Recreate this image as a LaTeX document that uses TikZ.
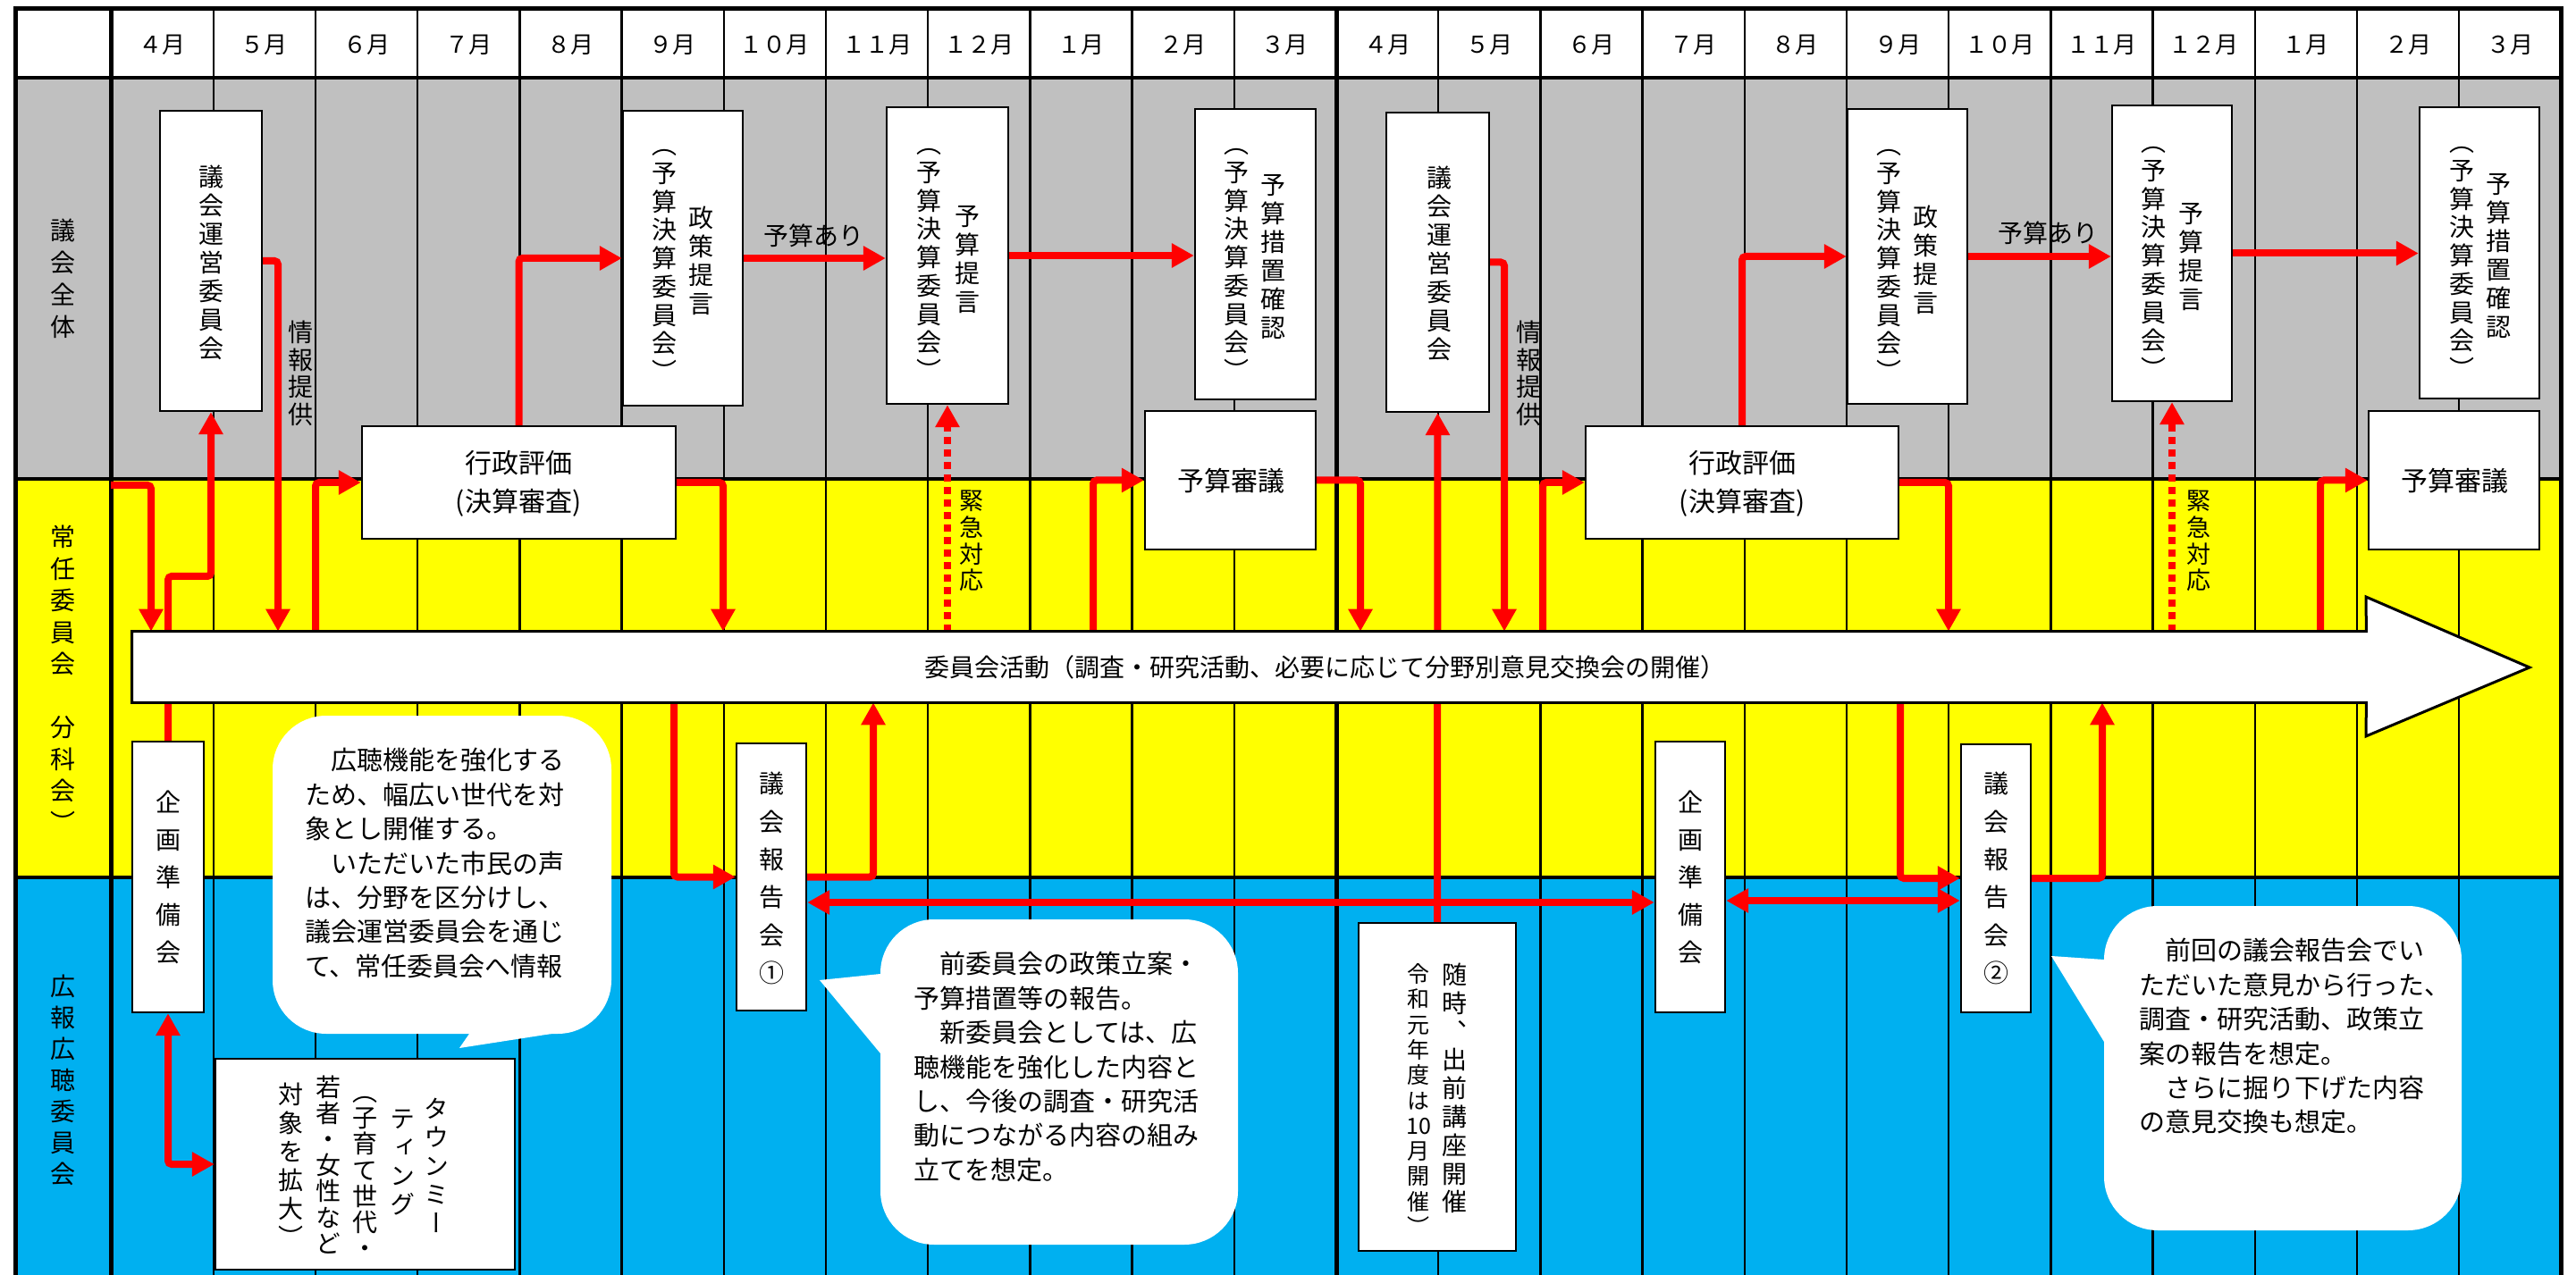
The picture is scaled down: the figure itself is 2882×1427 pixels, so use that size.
\documentclass[tikz,border=0pt]{standalone}
\usepackage{fontspec}
\setmainfont{Noto Sans CJK JP}
\newfontfamily\vjp[RawFeature=+vert]{Noto Sans CJK JP}
\usetikzlibrary{arrows.meta,fit}
\definecolor{cgray}{HTML}{C0C0C0}
\definecolor{cyel}{HTML}{FFFF00}
\definecolor{cblue}{HTML}{00B0F0}
\definecolor{cred}{HTML}{FF0000}
\newcommand\vs{\rule[-0.12em]{0pt}{1em}}
\tikzset{
  gridl/.style={line width=1.2pt,black},
  thickl/.style={line width=2.5pt,black},
  midl/.style={line width=2pt,black},
  box/.style={draw=black,line width=1.2pt,fill=white,inner sep=0pt},
  bubble/.style={fill=white,rounded corners=30pt,inner sep=0pt},
  vt/.style 2 args={align=center,inner sep=0pt,font=\vjp\fontsize{#1}{#2}\selectfont},
  ht/.style 2 args={align=center,inner sep=0pt,font=\fontsize{#1}{#2}\selectfont},
  btxt/.style={align=left,inner sep=0pt,anchor=north west,font=\fontsize{14.5pt}{19.2pt}\selectfont},
  mon/.style={inner sep=0pt,font=\fontsize{13pt}{15pt}\selectfont},
  ra/.style={draw=cred,line width=4pt,rounded corners=2pt,-{Triangle[length=12.5pt,width=13pt]}},
  rda/.style={draw=cred,line width=4pt,dash pattern=on 4pt off 3pt,-{Triangle[length=12.5pt,width=13pt]}},
  rdd/.style={draw=cred,line width=4pt,rounded corners=2pt,{Triangle[length=12.5pt,width=13pt]}-{Triangle[length=12.5pt,width=13pt]}},
}
\begin{document}
\begin{tikzpicture}[x=0.5pt,y=-0.5pt]
\useasboundingbox (0,0) rectangle (2882,1427);
% backgrounds
\fill[white] (0,0) rectangle (2882,1427);
\fill[cgray] (17,87) rectangle (2865,536);
\fill[cyel] (17,536) rectangle (2865,982);
\fill[cblue] (17,982) rectangle (2865,1440);
% grid
\foreach \i in {1,...,23}{\draw[gridl] ({124.5+114.2*\i},10) -- ({124.5+114.2*\i},1440);}
\draw[thickl] (124.5,10) -- (124.5,1440);
\draw[thickl] (1495,10) -- (1495,1440);
\draw[midl] (17,87) -- (2865,87);
\draw[midl] (17,536) -- (2865,536);
\draw[midl] (17,982) -- (2865,982);
\draw[thickl] (17,1440) -- (17,10) -- (2865,10) -- (2865,1440);
% month labels
\foreach \lab [count=\i from 0] in {４月,５月,６月,７月,８月,９月,１０月,１１月,１２月,１月,２月,３月,４月,５月,６月,７月,８月,９月,１０月,１１月,１２月,１月,２月,３月}
  {\node[mon] (m\i) at ({124.5+114.2*(\i+0.5)},50) {\lab};}
% left labels
\node[vt={14pt}{18pt}] (L1) at (70,312) {\vs 議\\会\\全\\体\vs};
\node[vt={14pt}{17.75pt}] (L2) at (70,761) {\vs 常\\任\\委\\員\\会\\\vs\\分\\科\\会\\︶\vs};
\node[vt={14pt}{17.5pt}] (L3) at (70,1208.5) {\vs 広\\報\\広\\聴\\委\\員\\会\vs};
% big arrow anchor
\node[inner sep=0pt,fit={(148,707) (2647,786)}] (BA) {};
% boxes
\node[box, fit={(179,124) (293,460)}] (A1) {};
\node[box, fit={(697,124) (831,454)}] (A2) {};
\node[box, fit={(405,477) (756,603)}] (A3) {};
\node[box, fit={(992,120) (1128,452)}] (A4) {};
\node[box, fit={(1337,122) (1472,447)}] (A5) {};
\node[box, fit={(1281,460) (1472,615)}] (A6) {};
\node[box, fit={(1551,126) (1666,461)}] (A7) {};
\node[box, fit={(1774,477) (2124,603)}] (A8) {};
\node[box, fit={(2067,122) (2201,452)}] (A9) {};
\node[box, fit={(2363,118) (2497,449)}] (A10) {};
\node[box, fit={(2707,120) (2841,446)}] (A11) {};
\node[box, fit={(2650,460) (2841,615)}] (A12) {};
\node[box, fit={(148,830) (228,1133)}] (K1) {};
\node[box, fit={(824,832) (902,1131)}] (R1) {};
\node[box, fit={(1852,830) (1930,1133)}] (K2) {};
\node[box, fit={(2194,833) (2272,1133)}] (R2) {};
\node[box, fit={(241,1185) (576,1421)}] (T) {};
\node[box, fit={(1520,1033) (1696,1400)}] (Z) {};
% red connectors
\coordinate (s2) at (124,543);
\draw[ra] (A1.east) -| (BA.north -| 311,0);
\draw[ra] (s2) -| (BA.north -| 169,0);
\draw[ra] (K1.north) |- (A1.south |- 0,645) -- (A1.south);
\draw[ra] (BA.north -| 353,0) |- (A3.west);
\draw[ra] (A3.north) |- (A2.west);
\draw[ra] (A3.east) -| (BA.north -| 809,0);
\draw[ra] (A2.east) -- (A2.east -| A4.west);
\draw[ra] (A4.east) -- (A4.east -| A5.west);
\draw[rda] (BA.north -| A4.south) -- (A4.south);
\draw[ra] (BA.north -| 1223,0) |- (A6.west);
\draw[ra] (A6.east) -| (BA.north -| 1522,0);
\draw[ra] (A7.east) -| (BA.north -| 1683,0);
\draw[ra] (Z.north) -- (A7.south);
\draw[ra] (BA.north -| 1726,0) |- (A8.west);
\draw[ra] (A8.north) |- (A9.west);
\draw[ra] (A8.east) -| (BA.north -| 2180,0);
\draw[ra] (A9.east) -- (A9.east -| A10.west);
\draw[ra] (A10.east) -- (A10.east -| A11.west);
\draw[rda] (BA.north -| A10.south) -- (A10.south);
\draw[ra] (BA.north -| 2596,0) |- (A12.west);
\draw[rdd] (K1.south) |- (T.west);
\draw[ra] (BA.south -| 754,0) |- (R1.west);
\draw[ra] (R1.east) -| (BA.south -| 977,0);
\draw[rdd] (R1.east |- 0,1010) -- (K2.west |- 0,1010);
\draw[rdd] (K2.east |- 0,1008) -- (R2.west |- 0,1008);
\draw[ra] (BA.south -| 2126,0) |- (R2.west);
\draw[ra] (R2.east) -| (BA.south -| 2352,0);
% big arrow
\draw[line width=1.5pt,fill=white,line join=miter] (BA.north west) -- (BA.north east) -- (2647,668) -- (2830,747) -- (2647,824) -- (BA.south east) -- (BA.south west) -- cycle;
\node[ht={14pt}{16pt}] (BAt) at (1482,747) {委員会活動（調査・研究活動、必要に応じて分野別意見交換会の開催）};
% bubbles
\node[bubble, fit={(305,801) (684,1157)}] (B1) {};
\fill[white] (525,1150) -- (525,1157) -- (514,1173) -- (630,1155) -- (630,1150) -- cycle;
\node[bubble, fit={(985,1029) (1385,1393)}] (B2) {};
\fill[white] (992,1090) -- (985,1090) -- (917,1097) -- (985,1179) -- (992,1179) -- cycle;
\node[bubble, fit={(2354,1014) (2754,1377)}] (B3) {};
\fill[white] (2361,1074) -- (2354,1074) -- (2295,1070) -- (2354,1166) -- (2361,1166) -- cycle;
\node[btxt] (B1t) at (341,837) {　広聴機能を強化する\\ため、幅広い世代を対\\象とし開催する。\\　いただいた市民の声\\は、分野を区分けし、\\議会運営委員会を通じ\\て、常任委員会へ情報};
\node[btxt] (B2t) at (1022,1065) {　前委員会の政策立案・\\予算措置等の報告。\\　新委員会としては、広\\聴機能を強化した内容と\\し、今後の調査・研究活\\動につながる内容の組み\\立てを想定。};
\node[btxt] (B3t) at (2393,1050) {　前回の議会報告会でい\\ただいた意見から行った、\\調査・研究活動、政策立\\案の報告を想定。\\　さらに掘り下げた内容\\の意見交換も想定。};
% texts in gray-row boxes
\node[vt={14pt}{16pt}] (tA1) at (236,294) {\vs 議\\会\\運\\営\\委\\員\\会\vs};
\node[vt={14pt}{16pt}] (tA7) at (1610,295) {\vs 議\\会\\運\\営\\委\\員\\会\vs};
\node[vt={14pt}{16pt}] (tA2r) at (784,291.5) {\vs 政\\策\\提\\言\vs};
\node[vt={14pt}{15.85pt}] (tA2l) at (743,289) {\vs ︵\\予\\算\\決\\算\\委\\員\\会\\︶\vs};
\node[vt={14pt}{16pt}] (tA9r) at (2154,291) {\vs 政\\策\\提\\言\vs};
\node[vt={14pt}{15.85pt}] (tA9l) at (2113,289) {\vs ︵\\予\\算\\決\\算\\委\\員\\会\\︶\vs};
\node[vt={14pt}{16pt}] (tA4r) at (1082,290) {\vs 予\\算\\提\\言\vs};
\node[vt={14pt}{15.85pt}] (tA4l) at (1039,288) {\vs ︵\\予\\算\\決\\算\\委\\員\\会\\︶\vs};
\node[vt={14pt}{16pt}] (tA10r) at (2451,287) {\vs 予\\算\\提\\言\vs};
\node[vt={14pt}{15.85pt}] (tA10l) at (2409,286) {\vs ︵\\予\\算\\決\\算\\委\\員\\会\\︶\vs};
\node[vt={14pt}{16pt}] (tA5r) at (1424,287) {\vs 予\\算\\措\\置\\確\\認\vs};
\node[vt={14pt}{15.85pt}] (tA5l) at (1383,288) {\vs ︵\\予\\算\\決\\算\\委\\員\\会\\︶\vs};
\node[vt={14pt}{16pt}] (tA11r) at (2795,286) {\vs 予\\算\\措\\置\\確\\認\vs};
\node[vt={14pt}{15.85pt}] (tA11l) at (2754,286) {\vs ︵\\予\\算\\決\\算\\委\\員\\会\\︶\vs};
\node[ht={15pt}{21.5pt}] (tA3) at (580,540.5) {\vs 行政評価\\(決算審査)\vs};
\node[ht={15pt}{21.5pt}] (tA8) at (1949,540.5) {\vs 行政評価\\(決算審査)\vs};
\node[ht={15pt}{17pt}] (tA6) at (1377,538) {予算審議};
\node[ht={15pt}{17pt}] (tA12) at (2746,538) {予算審議};
% connector labels
\node[ht={14pt}{16pt}] (y1) at (910,264) {予算あり};
\node[ht={14pt}{16pt}] (y2) at (2291,261) {予算あり};
\node[vt={14pt}{15.25pt}] (j1) at (336,418) {\vs 情\\報\\提\\供\vs};
\node[vt={14pt}{15.25pt}] (j2) at (1710,418) {\vs 情\\報\\提\\供\vs};
\node[vt={13.5pt}{14.85pt}] (e1) at (1087,605) {\vs 緊\\急\\対\\応\vs};
\node[vt={13.5pt}{14.85pt}] (e2) at (2460,605) {\vs 緊\\急\\対\\応\vs};
% texts in yellow/blue boxes
\node[vt={14pt}{21pt}] (tK1) at (188,982) {\vs 企\\画\\準\\備\\会\vs};
\node[vt={14pt}{21pt}] (tK2) at (1891,982) {\vs 企\\画\\準\\備\\会\vs};
\node[vt={14pt}{21.2pt}] (tR1) at (863,983) {\vs 議\\会\\報\\告\\会\\①\vs};
\node[vt={14pt}{21.2pt}] (tR2) at (2233,983) {\vs 議\\会\\報\\告\\会\\②\vs};
\node[vt={14pt}{16pt}] (tT1) at (488,1304.5) {\vs タ\\ウ\\ン\\ミ\\ー\vs};
\node[vt={14pt}{16pt}] (tT2) at (450,1300) {\vs テ\\ィ\\ン\\グ\vs};
\node[vt={14pt}{14.6pt}] (tT3) at (408,1309.5) {\vs ︵\\子\\育\\て\\世\\代\\・\vs};
\node[vt={14pt}{14.6pt}] (tT4) at (367,1304) {\vs 若\\者\\・\\女\\性\\な\\ど\vs};
\node[vt={14pt}{16pt}] (tT5) at (325,1304.5) {\vs 対\\象\\を\\拡\\大\\︶\vs};
\node[vt={14pt}{15.9pt}] (tZr) at (1627,1218) {\vs 随\\時\\︑\\出\\前\\講\\座\\開\\催\vs};
\node[vt={12.5pt}{14.15pt}] (tZl) at (1587,1231.5) {\vs 令\\和\\元\\年\\度\\は\\10\\月\\開\\催\\︶\vs};
\end{tikzpicture}
\end{document}
